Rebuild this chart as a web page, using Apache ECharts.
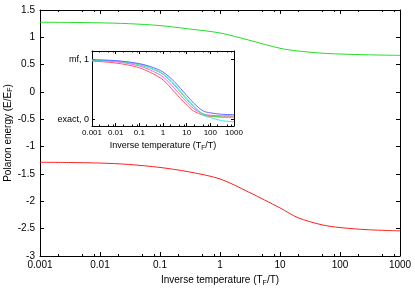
<!DOCTYPE html>
<html><head><meta charset="utf-8">
<script src="https://cdn.jsdelivr.net/npm/echarts@6/dist/echarts.min.js"></script>
<style>html,body{margin:0;padding:0;background:#fff}#c{width:415px;height:291px}</style>
</head><body><div id="c"></div>
<script>
// ---- data ----
const temps = [0.001, 0.003, 0.01, 0.03, 0.1, 0.3, 1, 3, 10, 20, 50, 100, 300, 1000];
const energyUpper = [1.276, 1.273, 1.265, 1.25, 1.215, 1.155, 1.08, 0.95, 0.80, 0.75, 0.71, 0.695, 0.68, 0.67];
const energyLower = [-1.285, -1.29, -1.30, -1.325, -1.38, -1.46, -1.59, -1.83, -2.12, -2.30, -2.43, -2.48, -2.52, -2.54];
const insetBlue    = [0.995, 0.99, 0.98, 0.96, 0.93, 0.88, 0.79, 0.63, 0.40, 0.27, 0.14, 0.11, 0.085, 0.08];
const insetCyan    = [0.99, 0.985, 0.975, 0.955, 0.92, 0.86, 0.76, 0.59, 0.35, 0.22, 0.07, 0.03, -0.02, -0.04];
const insetGreen   = [0.985, 0.98, 0.97, 0.95, 0.91, 0.85, 0.75, 0.57, 0.33, 0.21, 0.09, 0.06, 0.04, 0.035];
const insetMagenta = [0.98, 0.975, 0.96, 0.935, 0.89, 0.82, 0.71, 0.52, 0.29, 0.18, 0.09, 0.07, 0.06, 0.06];
const insetRed     = [0.97, 0.96, 0.94, 0.91, 0.86, 0.78, 0.66, 0.46, 0.24, 0.14, 0.07, 0.05, 0.04, 0.04];
const decadeStarts = [0.001, 0.01, 0.1, 1, 10, 100];
const minorMultipliers = [2, 5, 8];
const mainYTicks = [1.5, 1, 0.5, 0, -0.5, -1, -1.5, -2, -2.5, -3];
const insetYTicks = [0, 1];
const insetYLabels = {0: 'exact, 0', 1: 'mf, 1'};

const minorVals = [];
decadeStarts.forEach(d => minorMultipliers.forEach(m => minorVals.push(Number((d * m).toPrecision(6)))));
const fmt = v => String(Number(Number(v).toPrecision(6)));
const zip = (xs, ys) => xs.map((x, i) => [x, ys[i]]);

const FONT = 'Liberation Sans';
const black = '#000';

function xAxes(gridIndex, opts) {
  const base = {
    type: 'log', logBase: 10, min: 0.001, max: 1000, gridIndex,
    splitLine: {show: false}, minorTick: {show: false}
  };
  return [
    Object.assign({}, base, {
      position: 'bottom',
      axisLine: {show: true, onZero: false, lineStyle: {color: black, width: 1}},
      axisTick: {show: true, inside: true, length: opts.major, lineStyle: {color: black}},
      axisLabel: {show: true, color: black, fontFamily: FONT, fontSize: opts.fs, margin: opts.margin, formatter: fmt,
        showMinLabel: true, showMaxLabel: true},
      name: 'Inverse temperature (T{sub|F}/T)', nameLocation: 'middle', nameGap: opts.nameGap, nameMoveOverlap: false,
      nameTextStyle: {color: black, fontFamily: FONT, fontSize: opts.nfs,
        rich: {sub: {fontSize: opts.nfs * 0.7, fontFamily: FONT, color: black, verticalAlign: 'bottom', padding: [opts.nfs * 0.55, 0, 0, 0]}}}
    }),
    Object.assign({}, base, {
      position: 'bottom',
      axisLine: {show: false, onZero: false},
      axisTick: {show: true, inside: true, length: opts.minor, customValues: minorVals, lineStyle: {color: black}},
      axisLabel: {show: false}
    }),
    Object.assign({}, base, {
      position: 'top',
      axisLine: {show: true, onZero: false, lineStyle: {color: black, width: 1}},
      axisTick: {show: true, inside: true, length: opts.major, lineStyle: {color: black}},
      axisLabel: {show: false}
    }),
    Object.assign({}, base, {
      position: 'top',
      axisLine: {show: false, onZero: false},
      axisTick: {show: true, inside: true, length: opts.minor, customValues: minorVals, lineStyle: {color: black}},
      axisLabel: {show: false}
    })
  ];
}

const chart = echarts.init(document.getElementById('c'), null, {renderer: 'canvas'});
const xs = xAxes(0, {major: 4, minor: 2, fs: 10, nfs: 10, margin: 4, nameGap: 18})
  .concat(xAxes(1, {major: 3, minor: 1.5, fs: 8, nfs: 9, margin: 3, nameGap: 14}));

const option = {
  animation: false,
  backgroundColor: '#fff',
  grid: [
    {left: 40, right: 15, top: 10, bottom: 35, show: false, containLabel: false, outerBoundsMode: 'none'},
    {left: 92, right: 181, top: 51, bottom: 165, show: true, backgroundColor: '#fff', borderWidth: 0,
      containLabel: false, outerBoundsMode: 'none'}
  ],
  xAxis: xs,
  yAxis: [
    {type: 'value', gridIndex: 0, min: -3, max: 1.5, position: 'left',
      axisLine: {show: true, onZero: false, lineStyle: {color: black}},
      axisTick: {show: true, inside: true, length: 4, customValues: mainYTicks, lineStyle: {color: black}},
      axisLabel: {show: true, color: black, fontFamily: FONT, fontSize: 10, margin: 5, customValues: mainYTicks, formatter: fmt},
      splitLine: {show: false},
      name: 'Polaron energy (E/E{sub|F})', nameLocation: 'middle', nameGap: 26, nameMoveOverlap: false,
      nameTextStyle: {color: black, fontFamily: FONT, fontSize: 10,
        rich: {sub: {fontSize: 7, fontFamily: FONT, color: black, verticalAlign: 'bottom', padding: [5.5, 0, 0, 0]}}}
    },
    {type: 'value', gridIndex: 0, min: -3, max: 1.5, position: 'right',
      axisLine: {show: true, onZero: false, lineStyle: {color: black}},
      axisTick: {show: true, inside: true, length: 4, customValues: mainYTicks, lineStyle: {color: black}},
      axisLabel: {show: false}, splitLine: {show: false}
    },
    {type: 'value', gridIndex: 1, min: -0.11, max: 1.14, position: 'left',
      axisLine: {show: true, onZero: false, lineStyle: {color: black}},
      axisTick: {show: true, inside: true, length: 3, customValues: insetYTicks, lineStyle: {color: black}},
      axisLabel: {show: true, color: black, fontFamily: FONT, fontSize: 9, margin: 3, customValues: insetYTicks,
        formatter: v => insetYLabels[Math.round(v)]},
      splitLine: {show: false}
    },
    {type: 'value', gridIndex: 1, min: -0.11, max: 1.14, position: 'right',
      axisLine: {show: true, onZero: false, lineStyle: {color: black}},
      axisTick: {show: true, inside: true, length: 3, customValues: insetYTicks, lineStyle: {color: black}},
      axisLabel: {show: false}, splitLine: {show: false}
    }
  ],
  series: [
    {type: 'line', xAxisIndex: 0, yAxisIndex: 0, data: zip(temps, energyUpper), smooth: 0.3, showSymbol: false,
      lineStyle: {color: '#22e022', width: 1}},
    {type: 'line', xAxisIndex: 0, yAxisIndex: 0, data: zip(temps, energyLower), smooth: 0.3, showSymbol: false,
      lineStyle: {color: '#ff2020', width: 1}},
    {type: 'line', xAxisIndex: 4, yAxisIndex: 2, data: zip(temps, insetRed), smooth: 0.3, showSymbol: false,
      lineStyle: {color: '#ff5a5a', width: 1}},
    {type: 'line', xAxisIndex: 4, yAxisIndex: 2, data: zip(temps, insetMagenta), smooth: 0.3, showSymbol: false,
      lineStyle: {color: '#ff5aff', width: 1}},
    {type: 'line', xAxisIndex: 4, yAxisIndex: 2, data: zip(temps, insetGreen), smooth: 0.3, showSymbol: false,
      lineStyle: {color: '#50e050', width: 1}},
    {type: 'line', xAxisIndex: 4, yAxisIndex: 2, data: zip(temps, insetCyan), smooth: 0.3, showSymbol: false,
      lineStyle: {color: '#40e8e8', width: 1}},
    {type: 'line', xAxisIndex: 4, yAxisIndex: 2, data: zip(temps, insetBlue), smooth: 0.3, showSymbol: false,
      lineStyle: {color: '#6a6aff', width: 1}}
  ]
};
chart.setOption(option);
</script></body></html>
